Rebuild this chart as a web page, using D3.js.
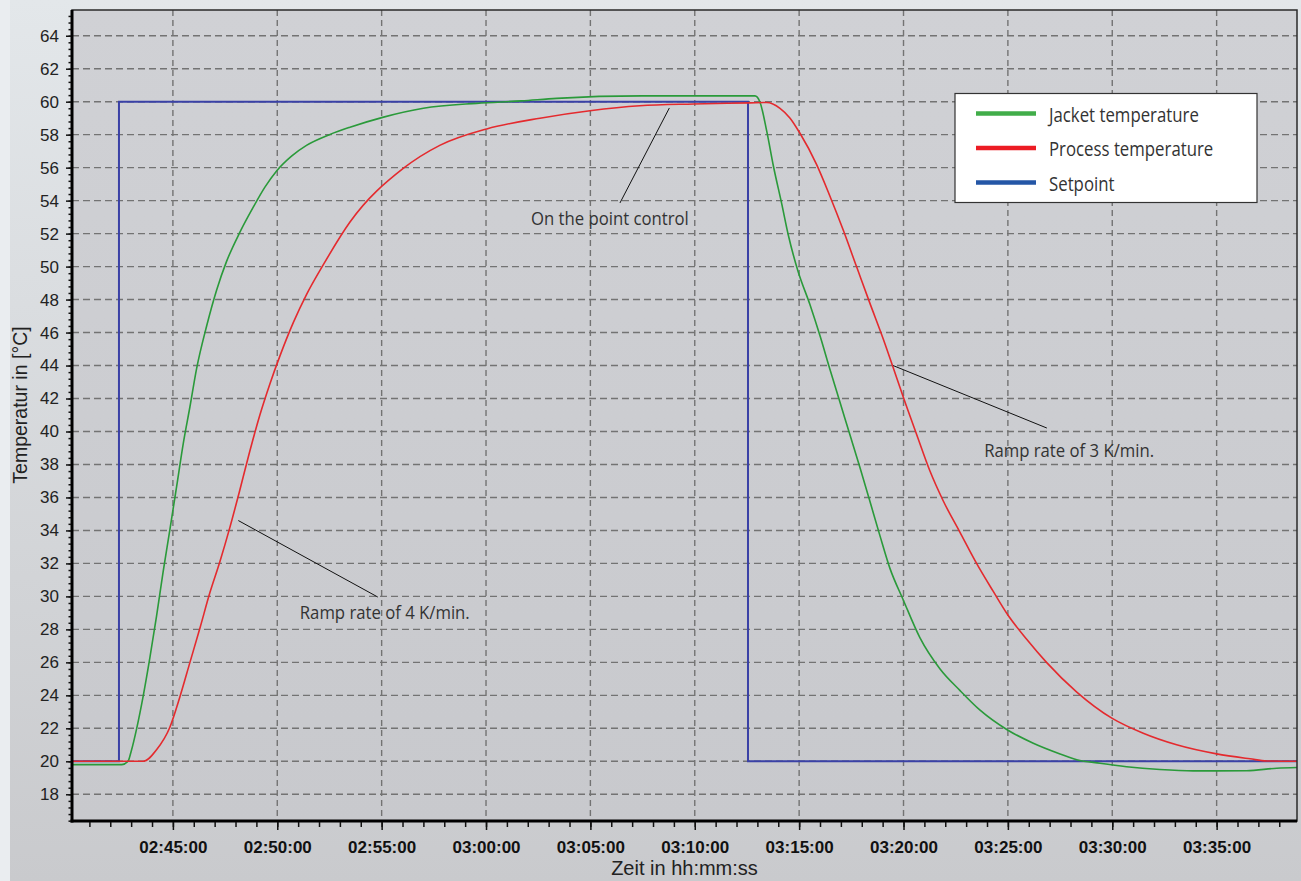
<!DOCTYPE html>
<html><head><meta charset="utf-8">
<script src="https://cdn.jsdelivr.net/npm/d3@7"></script>
<style>
html,body{margin:0;padding:0;}
body{width:1301px;height:881px;overflow:hidden;background:#dde0e3;}
</style></head><body>
<svg id="chart" width="1301" height="881"></svg>
<script>
// ---------- data ----------
const jacketTime = ["02:40:10","02:42:33","02:42:51","02:43:00","02:43:16","02:43:35","02:43:54","02:44:13","02:44:32","02:44:51","02:45:11","02:45:30","02:45:49","02:46:08","02:46:37","02:47:06","02:47:34","02:48:13","02:48:51","02:49:24","02:49:58","02:50:41","02:51:24","02:52:30","02:53:29","02:55:03","02:57:00","02:59:33","03:01:42","03:03:23","03:07:27","03:12:39","03:12:53","03:13:07","03:13:27","03:13:46","03:14:10","03:14:29","03:14:57","03:15:31","03:16:00","03:16:28","03:16:57","03:17:26","03:17:55","03:18:23","03:18:52","03:19:21","03:19:59","03:20:47","03:21:45","03:22:42","03:23:40","03:24:59","03:26:13","03:27:30","03:28:18","03:29:25","03:30:41","03:32:17","03:33:53","03:36:26","03:37:53","03:38:51"];
const jacketTemp = [19.8,19.8,20.0,20.6,22.0,24.0,26.3,28.8,31.5,34.0,36.7,39.3,41.5,43.8,46.4,48.6,50.3,52.1,53.6,54.8,55.8,56.7,57.35,58.0,58.45,59.05,59.6,59.9,60.05,60.2,60.35,60.35,60.35,60.0,58.2,56.1,53.8,51.9,49.7,47.7,45.8,43.8,41.8,39.8,37.8,35.8,33.7,31.7,29.8,27.5,25.6,24.3,23.1,21.9,21.1,20.45,20.1,19.88,19.67,19.5,19.42,19.43,19.58,19.62];

const processTime = ["02:40:10","02:43:35","02:44:13","02:44:51","02:45:20","02:45:49","02:46:18","02:46:46","02:47:15","02:47:44","02:48:13","02:48:41","02:49:10","02:49:39","02:50:08","02:50:46","02:51:24","02:52:12","02:53:29","02:56:02","02:57:47","03:00:02","03:02:35","03:04:59","03:07:22","03:09:56","03:12:39","03:13:27","03:14:05","03:14:34","03:15:02","03:15:50","03:16:28","03:17:07","03:17:45","03:18:23","03:19:02","03:19:30","03:19:59","03:20:38","03:21:16","03:21:54","03:22:42","03:23:30","03:24:18","03:24:59","03:25:54","03:26:51","03:28:18","03:30:00","03:31:29","03:33:05","03:35:00","03:36:36","03:37:24","03:38:51"];
const processTemp = [20.0,20.0,20.7,22.05,23.9,26.0,28.1,30.2,32.1,34.2,36.5,38.8,41.0,42.9,44.6,46.6,48.3,50.1,52.7,55.95,57.35,58.35,59.0,59.45,59.75,59.86,59.93,59.95,59.6,59.0,58.1,56.2,54.3,52.2,50.0,47.8,45.6,43.9,42.1,39.8,37.6,35.8,33.9,32.0,30.3,28.9,27.4,26.0,24.2,22.6,21.7,21.0,20.45,20.15,20.02,20.0];

const setpointTime = ["02:40:10","02:42:25","03:12:33","03:38:51"];
const setpointTemp = [20,60,20,20];

const xDomain = ["02:40:10","03:38:51"];
const yDomain = [16.38,65.56];
const yTicks = [18,20,22,24,26,28,30,32,34,36,38,40,42,44,46,48,50,52,54,56,58,60,62,64];
const xTickLabels = ["02:45:00","02:50:00","02:55:00","03:00:00","03:05:00","03:10:00","03:15:00","03:20:00","03:25:00","03:30:00","03:35:00"];

const seriesNames = ["Jacket temperature","Process temperature","Setpoint"];
const xTitle = "Zeit in hh:mm:ss";
const yTitle = "Temperatur in [°C]";

const annotationText = ["On the point control","Ramp rate of 4 K/min.","Ramp rate of 3 K/min."];
const annotationFromTime = ["03:08:47","02:48:08","03:19:30"];
const annotationFromTemp = [59.62,34.6,44.0];
const annotationToTime = ["03:06:25","02:54:49","03:26:52"];
const annotationToTemp = [53.86,29.96,40.21];
const annotationLabelTime = ["03:05:56","02:55:09","03:27:56"];
const annotationLabelTemp = [53.0,29.05,38.88];

// ---------- layout ----------
const W = 1301, H = 881;
const m = {left:72, right:1297, top:10, bottom:821};
const colors = {jacket:"#2a9a3a", process:"#e42a2e", setpoint:"#3a41a6"};
const legendColors = ["#41ad49","#ec1c24","#2456a6"];

const parse = d3.timeParse("%H:%M:%S");
const svg = d3.select("#chart");

const defs = svg.append("defs");
const bg = defs.append("linearGradient").attr("id","bg").attr("x1",0).attr("y1",0).attr("x2",0).attr("y2",1);
bg.append("stop").attr("offset","0%").attr("stop-color","#e3e7ea");
bg.append("stop").attr("offset","100%").attr("stop-color","#c9cacd");
const pg = defs.append("linearGradient").attr("id","pg").attr("x1",0).attr("y1",0).attr("x2",0).attr("y2",1);
pg.append("stop").attr("offset","0%").attr("stop-color","#d0d1d5");
pg.append("stop").attr("offset","100%").attr("stop-color","#c8c9cd");

svg.append("rect").attr("width",W).attr("height",H).attr("fill","url(#bg)");
svg.append("rect").attr("width",10).attr("height",H).attr("fill","#eaedf0");

const x = d3.scaleTime().domain(xDomain.map(parse)).range([m.left, m.right]);
const y = d3.scaleLinear().domain(yDomain).range([m.bottom, m.top]);

svg.append("rect").attr("x",m.left).attr("y",m.top).attr("width",m.right-m.left).attr("height",m.bottom-m.top)
  .attr("fill","url(#pg)");

// grid
const majorX = xTickLabels.map(parse);
svg.append("g").selectAll("line").data(yTicks).join("line")
  .attr("x1",m.left).attr("x2",m.right).attr("y1",d=>y(d)).attr("y2",d=>y(d))
  .attr("stroke","#737373").attr("stroke-width",1.4).attr("stroke-dasharray","7,4");
svg.append("g").selectAll("line").data(majorX).join("line")
  .attr("x1",d=>x(d)).attr("x2",d=>x(d)).attr("y1",m.top).attr("y2",m.bottom)
  .attr("stroke","#737373").attr("stroke-width",1.4).attr("stroke-dasharray","6,4");

// series
const line = d3.line().x(d=>x(d[0])).y(d=>y(d[1])).curve(d3.curveMonotoneX);
const zip = (t,v)=>t.map((s,i)=>[parse(s),v[i]]);
svg.append("path").datum(zip(setpointTime,setpointTemp))
  .attr("d", d3.line().x(d=>x(d[0])).y(d=>y(d[1])).curve(d3.curveStepAfter))
  .attr("fill","none").attr("stroke",colors.setpoint).attr("stroke-width",2);
svg.append("path").datum(zip(jacketTime,jacketTemp)).attr("d",line)
  .attr("fill","none").attr("stroke",colors.jacket).attr("stroke-width",1.6);
svg.append("path").datum(zip(processTime,processTemp)).attr("d",line)
  .attr("fill","none").attr("stroke",colors.process).attr("stroke-width",1.6);

// frame
svg.append("rect").attr("x",m.left).attr("y",m.top).attr("width",m.right-m.left).attr("height",m.bottom-m.top)
  .attr("fill","none").attr("stroke","#2a2a2a").attr("stroke-width",1.5);
svg.append("line").attr("x1",m.left).attr("x2",m.left).attr("y1",m.top).attr("y2",m.bottom+1.5)
  .attr("stroke","#000").attr("stroke-width",3);
svg.append("line").attr("x1",m.left-1.5).attr("x2",m.right).attr("y1",m.bottom).attr("y2",m.bottom)
  .attr("stroke","#000").attr("stroke-width",3);

// axes
const axisFont = "'Liberation Sans', Arial, sans-serif";
const xAxis = svg.append("g").attr("transform",`translate(0,${m.bottom+1})`)
  .call(d3.axisBottom(x).tickValues(majorX).tickFormat(d3.timeFormat("%H:%M:%S")).tickSize(8).tickPadding(11));
const xMinor = svg.append("g").attr("transform",`translate(0,${m.bottom+1})`)
  .call(d3.axisBottom(x).tickValues(d3.timeMinute.every(1).range(...x.domain())).tickFormat("").tickSize(5));
const yAxis = svg.append("g").attr("transform",`translate(${m.left-1},0)`)
  .call(d3.axisLeft(y).tickValues(yTicks).tickSize(5).tickPadding(7));
const yMinor = svg.append("g").attr("transform",`translate(${m.left-1},0)`)
  .call(d3.axisLeft(y).tickValues(d3.range(41,164).map(i=>i*0.4)).tickFormat("").tickSize(2.5));
[xAxis,xMinor,yAxis,yMinor].forEach(g=>{
  g.select(".domain").remove();
  g.selectAll(".tick line").attr("stroke","#111").attr("stroke-width",1.5);
});
xAxis.selectAll("text").attr("font-family",axisFont).attr("font-size",17).attr("font-weight","bold").attr("fill","#111");
yAxis.selectAll("text").attr("font-family",axisFont).attr("font-size",17).attr("fill","#222");

svg.append("text").attr("x",(m.left+m.right)/2).attr("y",875).attr("text-anchor","middle")
  .attr("font-family",axisFont).attr("font-size",20).attr("fill","#222").text(xTitle);
svg.append("text").attr("transform",`translate(27,405) rotate(-90)`).attr("text-anchor","middle")
  .attr("font-family",axisFont).attr("font-size",19.5).attr("fill","#222").text(yTitle);

// annotations
const noteFont = "'Open Sans', 'Noto Sans', sans-serif";
annotationText.forEach((t,i)=>{
  svg.append("line")
    .attr("x1",x(parse(annotationFromTime[i]))).attr("y1",y(annotationFromTemp[i]))
    .attr("x2",x(parse(annotationToTime[i]))).attr("y2",y(annotationToTemp[i]))
    .attr("stroke","#111").attr("stroke-width",1);
  svg.append("text")
    .attr("transform",`translate(${x(parse(annotationLabelTime[i]))},${y(annotationLabelTemp[i])}) scale(0.88,1)`)
    .attr("text-anchor","middle").attr("dominant-baseline","central")
    .attr("font-family",noteFont).attr("font-size",19).attr("fill","#333").text(t);
});

// legend
const lg = svg.append("g");
lg.append("rect").attr("x",955).attr("y",93.5).attr("width",302).attr("height",109)
  .attr("fill","#fff").attr("stroke","#333").attr("stroke-width",1.2);
seriesNames.forEach((n,i)=>{
  const cy = 113.5 + i*34.5;
  lg.append("line").attr("x1",976).attr("x2",1036).attr("y1",cy).attr("y2",cy)
    .attr("stroke",legendColors[i]).attr("stroke-width",4.5);
  lg.append("text").attr("transform",`translate(1049,${cy}) scale(0.84,1)`).attr("dominant-baseline","central")
    .attr("font-family",noteFont).attr("font-size",20).attr("fill","#333").text(n);
});
</script>
</body></html>
